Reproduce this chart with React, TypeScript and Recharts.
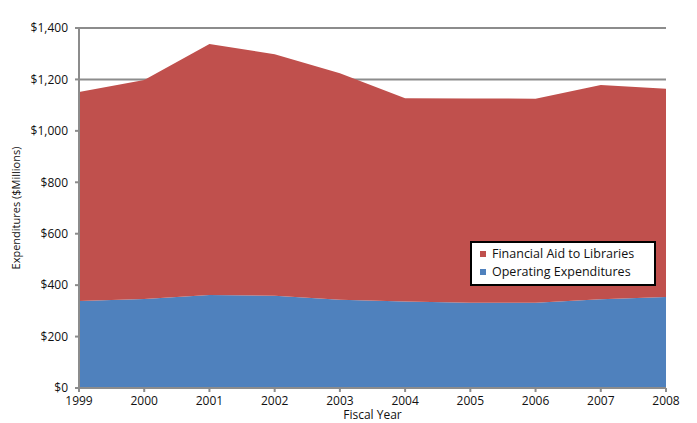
import { AreaChart, Area, XAxis, YAxis, CartesianGrid, Label } from "recharts";

const years = ["1999", "2000", "2001", "2002", "2003", "2004", "2005", "2006", "2007", "2008"];
const operating = [338, 346, 362, 359, 343, 336, 332, 332, 345, 354];
const financialAid = [813, 852, 976, 939, 881, 791, 794, 793, 833, 810];
const yTicks = [0, 200, 400, 600, 800, 1000, 1200, 1400];
const legendItems = [
  { label: "Financial Aid to Libraries", color: "#C0504D" },
  { label: "Operating Expenditures", color: "#4F81BD" },
];

const data = years.map((year, i) => ({
  year,
  operating: operating[i],
  aid: financialAid[i],
}));

const FONT = "'Open Sans', 'DejaVu Sans', sans-serif";
const AXIS = "#8c8c8c";

const fmtMoney = (v: number) => "$" + v.toLocaleString("en-US");

export default function App() {
  return (
    <div style={{ position: "absolute", left: 0, top: 0, width: 697, height: 423, background: "#fff" }}>
      <AreaChart width={697} height={423} data={data} margin={{ top: 28, right: 31, bottom: 0, left: 0 }}>
        <CartesianGrid vertical={false} stroke={AXIS} strokeWidth={2} />
        <XAxis
          dataKey="year"
          height={35}
          stroke={AXIS}
          strokeWidth={2}
          tickSize={4}
          tickMargin={4}
          tick={{ fill: "#111", fontSize: 12, fontFamily: FONT }}
        >
          <Label value="Fiscal Year" position="insideBottom" offset={4} style={{ fill: "#111", fontSize: 12, fontFamily: FONT }} />
        </XAxis>
        <YAxis
          width={79}
          domain={[0, 1400]}
          ticks={yTicks}
          tickFormatter={fmtMoney}
          stroke={AXIS}
          strokeWidth={2}
          tickSize={4}
          tickMargin={7}
          tick={{ fill: "#111", fontSize: 12, fontFamily: FONT }}
        >
          <Label
            value="Expenditures ($Millions)"
            angle={-90}
            position="insideLeft"
            offset={16}
            style={{ textAnchor: "middle", fill: "#111", fontSize: 11, fontFamily: FONT }}
          />
        </YAxis>
        <Area
          type="linear"
          dataKey="operating"
          stackId="a"
          stroke="none"
          fill="#4F81BD"
          fillOpacity={1}
          isAnimationActive={false}
        />
        <Area
          type="linear"
          dataKey="aid"
          stackId="a"
          stroke="none"
          fill="#C0504D"
          fillOpacity={1}
          isAnimationActive={false}
        />
      </AreaChart>
      <div
        style={{
          position: "absolute",
          left: 470,
          top: 241,
          width: 166,
          border: "2px solid #000",
          background: "#fff",
          padding: "2px 8px 3px 8px",
          fontFamily: FONT,
          fontSize: 12.5,
          color: "#111",
          lineHeight: "18px",
        }}
      >
        {legendItems.map((it) => (
          <div key={it.label} style={{ display: "flex", alignItems: "center" }}>
            <span style={{ width: 6, height: 6, background: it.color, marginRight: 6, display: "inline-block" }} />
            {it.label}
          </div>
        ))}
      </div>
    </div>
  );
}
